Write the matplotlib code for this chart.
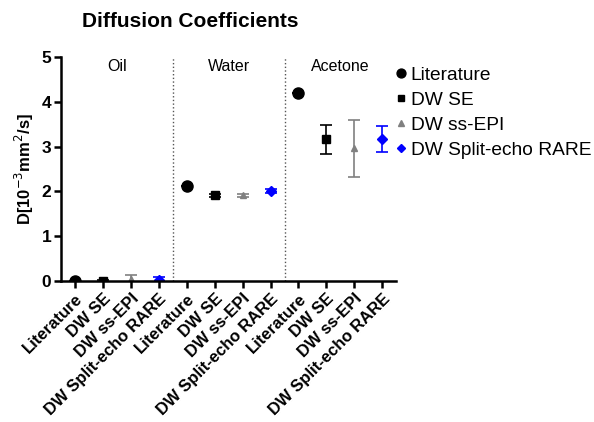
import numpy as np
import matplotlib.pyplot as plt
from matplotlib.lines import Line2D

plt.rcParams['font.family'] = ['Liberation Sans', 'DejaVu Sans']

solvents = ['Oil', 'Water', 'Acetone']
methods = ['Literature', 'DW SE', 'DW ss-EPI', 'DW Split-echo RARE']
# values per method, ordered Oil, Water, Acetone
means = {
    'Literature': [0.0, 2.13, 4.19],
    'DW SE': [0.01, 1.91, 3.16],
    'DW ss-EPI': [0.05, 1.91, 2.96],
    'DW Split-echo RARE': [0.03, 2.01, 3.18],
}
errs = {
    'Literature': [0.0, 0.0, 0.0],
    'DW SE': [0.02, 0.04, 0.33],
    'DW ss-EPI': [0.09, 0.04, 0.63],
    'DW Split-echo RARE': [0.05, 0.05, 0.29],
}
markers = {'Literature': 'o', 'DW SE': 's', 'DW ss-EPI': '^', 'DW Split-echo RARE': 'D'}
colors = {'Literature': 'black', 'DW SE': 'black', 'DW ss-EPI': '#808080', 'DW Split-echo RARE': '#0000ff'}
msize = {'Literature': 8, 'DW SE': 6, 'DW ss-EPI': 5, 'DW Split-echo RARE': 5}

fig = plt.figure(figsize=(5.94, 4.22), dpi=100)
ax = fig.add_axes([0.103, 0.334, 0.564, 0.531])

n = len(methods)
handles = []
for j, m in enumerate(methods):
    xs = [i * n + j + 1 for i in range(len(solvents))]
    ax.errorbar(xs, means[m], yerr=errs[m], fmt=markers[m], color=colors[m],
                ms=msize[m], capsize=4, elinewidth=1.2, capthick=1.2)
    handles.append(Line2D([], [], ls='none', marker=markers[m], color=colors[m],
                          ms=msize[m] * 0.8, label=m))

for i in range(1, len(solvents)):
    ax.axvline(i * n + 0.5, color='#555555', ls=':', lw=1)
for i, s in enumerate(solvents):
    ax.text(i * n + 2.5, 4.78, s, ha='center', va='center', fontsize=11.5)

ax.set_xlim(0.5, 12.5)
ax.set_ylim(0, 5)
ax.set_xticks(np.arange(1, 13))
ax.set_xticklabels(methods * len(solvents), rotation=45, ha='right',
                   rotation_mode='anchor', fontweight='bold', fontsize=12)
ax.set_yticks([0, 1, 2, 3, 4, 5])
ax.set_yticklabels(['0', '1', '2', '3', '4', '5'], fontweight='bold', fontsize=12.5)
ax.set_ylabel('D[10$^{-3}$mm$^{2}$/s]', fontweight='bold', fontsize=12, labelpad=4)
ax.spines['top'].set_visible(False)
ax.spines['right'].set_visible(False)
ax.spines['left'].set_linewidth(1.8)
ax.spines['bottom'].set_linewidth(1.8)
ax.tick_params(width=1.8, length=5, pad=2)

ax.legend(handles=handles, loc='upper left', bbox_to_anchor=(0.975, 0.975), frameon=False,
          fontsize=13.8, handletextpad=0.0, handlelength=1.0, labelspacing=0.4,
          borderaxespad=0.0, borderpad=0.2)
fig.text(0.32, 0.95, 'Diffusion Coefficients', ha='center', va='center',
         fontweight='bold', fontsize=15)

plt.savefig('out.png', dpi=100)
